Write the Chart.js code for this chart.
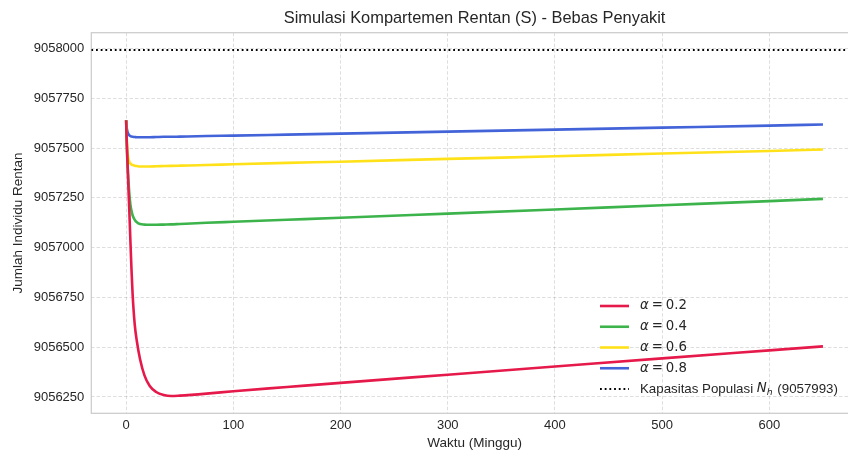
<!DOCTYPE html>
<html>
<head>
<meta charset="utf-8">
<script src="https://cdn.jsdelivr.net/npm/chart.js@4.4.1/dist/chart.umd.min.js"></script>
<style>
  html, body { margin: 0; padding: 0; background: #fff; overflow: hidden; width: 848px; height: 454px; }
  canvas { display: block; }
</style>
</head>
<body>
<canvas id="chart" width="866" height="454"></canvas>
<script>
// Time samples (weeks) shared by every series
const weeks = [0, 0.5, 1, 2, 3, 4, 5, 6, 8, 10, 13, 17, 22, 28, 35, 42, 50, 75, 100, 150, 200, 300, 400, 500, 600, 650];

// Fractional orders of the model
const alphas = [0.2, 0.4, 0.6, 0.8];

// Susceptible population S(t) for each fractional order
const susceptibleA02 = [9057640, 9057545, 9057470, 9057320, 9057180, 9057030, 9056890, 9056770, 9056615, 9056530, 9056440, 9056360, 9056305, 9056275, 9056260, 9056255, 9056257, 9056267, 9056279, 9056300, 9056321, 9056362, 9056403, 9056444, 9056484, 9056504];
const susceptibleA04 = [9057640, 9057530, 9057450, 9057350, 9057270, 9057215, 9057185, 9057163, 9057140, 9057128, 9057119, 9057116, 9057115, 9057115, 9057116, 9057117, 9057119, 9057125, 9057130, 9057140, 9057150, 9057171, 9057192, 9057213, 9057234, 9057245];
const susceptibleA06 = [9057640, 9057560, 9057500, 9057450, 9057432, 9057423, 9057418, 9057415, 9057412, 9057410, 9057408, 9057408, 9057408, 9057409, 9057410, 9057411, 9057412, 9057415, 9057419, 9057426, 9057432, 9057446, 9057459, 9057473, 9057486, 9057493];
const susceptibleA08 = [9057640, 9057605, 9057588, 9057572, 9057564, 9057560, 9057558, 9057557, 9057556, 9057555, 9057555, 9057555, 9057555, 9057556, 9057557, 9057557, 9057558, 9057561, 9057563, 9057568, 9057573, 9057583, 9057593, 9057603, 9057613, 9057619];

// Human population capacity N_h
const populationCapacity = 9057993;

// Axis ticks and limits
const xTickValues = [0, 100, 200, 300, 400, 500, 600];
const yTickValues = [9056250, 9056500, 9056750, 9057000, 9057250, 9057500, 9057750, 9058000];
const xLimits = [-32.5, 682.5];
const yLimits = [9056168, 9058080];

const chartTitle = 'Simulasi Kompartemen Rentan (S) - Bebas Penyakit';

const seriesValues = [susceptibleA02, susceptibleA04, susceptibleA06, susceptibleA08];
const seriesColors = ['#e6194B', '#3cb44b', '#ffe119', '#4363d8'];

const TEXT = '#262626';
const SANS = '"Liberation Sans", Arial, sans-serif';
const MATH = '"DejaVu Sans", sans-serif';

const datasets = seriesValues.map((vals, i) => ({
  label: 'α = ' + alphas[i],
  data: weeks.map((t, j) => ({ x: t, y: vals[j] })),
  borderColor: seriesColors[i],
  borderWidth: 2.6,
  pointRadius: 0,
  cubicInterpolationMode: 'monotone',
  fill: false
}));
datasets.push({
  label: 'Kapasitas Populasi N_h (' + populationCapacity + ')',
  data: xLimits.map(x => ({ x: x, y: populationCapacity })),
  borderColor: '#000',
  borderWidth: 1.8,
  borderDash: [1.8, 2.9],
  pointRadius: 0,
  fill: false
});

// Frame around the plotting area (all four sides)
const framePlugin = {
  id: 'frame',
  beforeDatasetsDraw(chart) {
    const { ctx, chartArea: a } = chart;
    ctx.save();
    ctx.strokeStyle = '#cccccc';
    ctx.lineWidth = 1.25;
    ctx.strokeRect(a.left, a.top, a.right - a.left, a.bottom - a.top);
    ctx.restore();
  }
};

// Title centred over the plotting area
const axesTitlePlugin = {
  id: 'axesTitle',
  afterDraw(chart) {
    const { ctx, chartArea: a } = chart;
    ctx.save();
    ctx.font = '16.4px ' + SANS;
    ctx.fillStyle = TEXT;
    ctx.textAlign = 'center';
    ctx.textBaseline = 'middle';
    ctx.fillText(chartTitle, (a.left + a.right) / 2, 18);
    ctx.restore();
  }
};

// Legend with math-style labels in the lower right of the plot
const mathLegendPlugin = {
  id: 'mathLegend',
  afterDatasetsDraw(chart) {
    const { ctx } = chart;
    const fs = 13.3;
    const x0 = 600, handleLen = 29, textX = 640, y0 = 306, rowGap = 20.75;
    ctx.save();
    ctx.textBaseline = 'middle';
    ctx.fillStyle = TEXT;
    chart.data.datasets.forEach((ds, i) => {
      const y = y0 + i * rowGap;
      ctx.save();
      ctx.strokeStyle = ds.borderColor;
      ctx.lineWidth = ds.borderWidth;
      ctx.setLineDash(ds.borderDash || []);
      ctx.beginPath();
      ctx.moveTo(x0, y);
      ctx.lineTo(x0 + handleLen, y);
      ctx.stroke();
      ctx.restore();

      let x = textX;
      const put = (txt, font, dy) => {
        ctx.font = font;
        ctx.fillText(txt, x, y + (dy || 0));
        x += ctx.measureText(txt).width;
      };
      if (i < alphas.length) {
        put('α', 'italic ' + fs + 'px ' + MATH);
        x += 0.22 * fs;
        put('=', fs + 'px ' + MATH);
        x += 0.22 * fs;
        put(String(alphas[i]), fs + 'px ' + MATH);
      } else {
        put('Kapasitas Populasi ', fs + 'px ' + SANS);
        put('N', 'italic ' + fs + 'px ' + MATH);
        put('h', 'italic ' + (fs * 0.7) + 'px ' + MATH, 3.5);
        x += 1;
        put(' (' + populationCapacity + ')', fs + 'px ' + SANS);
      }
    });
    ctx.restore();
  }
};

const gridStyle = { color: 'rgba(0,0,0,0.13)', lineWidth: 1, drawTicks: false };

new Chart(document.getElementById('chart'), {
  type: 'line',
  data: { datasets },
  options: {
    responsive: false,
    devicePixelRatio: 1,
    animation: false,
    layout: { padding: { left: 0, right: 8.2, top: 32.7, bottom: 0 } },
    plugins: {
      legend: { display: false },
      tooltip: { enabled: false },
      title: { display: false }
    },
    scales: {
      x: {
        type: 'linear',
        min: xLimits[0],
        max: xLimits[1],
        afterBuildTicks: s => { s.ticks = xTickValues.map(v => ({ value: v })); },
        afterFit: s => { s.height = 40.7; },
        ticks: {
          callback: v => String(v),
          color: TEXT,
          font: { family: SANS, size: 13 },
          padding: 4,
          maxRotation: 0,
          autoSkip: false
        },
        grid: gridStyle,
        border: { display: false, dash: [3.5, 2] },
        title: {
          display: true,
          text: 'Waktu (Minggu)',
          color: TEXT,
          font: { family: SANS, size: 13.5, lineHeight: 1.2 },
          padding: { top: 0, bottom: 2.5 }
        }
      },
      y: {
        type: 'linear',
        min: yLimits[0],
        max: yLimits[1],
        afterBuildTicks: s => { s.ticks = yTickValues.map(v => ({ value: v })); },
        afterFit: s => { s.width = 91.3; },
        ticks: {
          callback: v => String(v),
          color: TEXT,
          font: { family: SANS, size: 13 },
          padding: 7,
          autoSkip: false
        },
        grid: gridStyle,
        border: { display: false, dash: [3.5, 2] },
        title: {
          display: true,
          text: 'Jumlah Individu Rentan',
          color: TEXT,
          font: { family: SANS, size: 13.5, lineHeight: 1.2 },
          padding: { top: 10.5, bottom: 0 }
        }
      }
    }
  },
  plugins: [framePlugin, mathLegendPlugin, axesTitlePlugin]
});
</script>
</body>
</html>
